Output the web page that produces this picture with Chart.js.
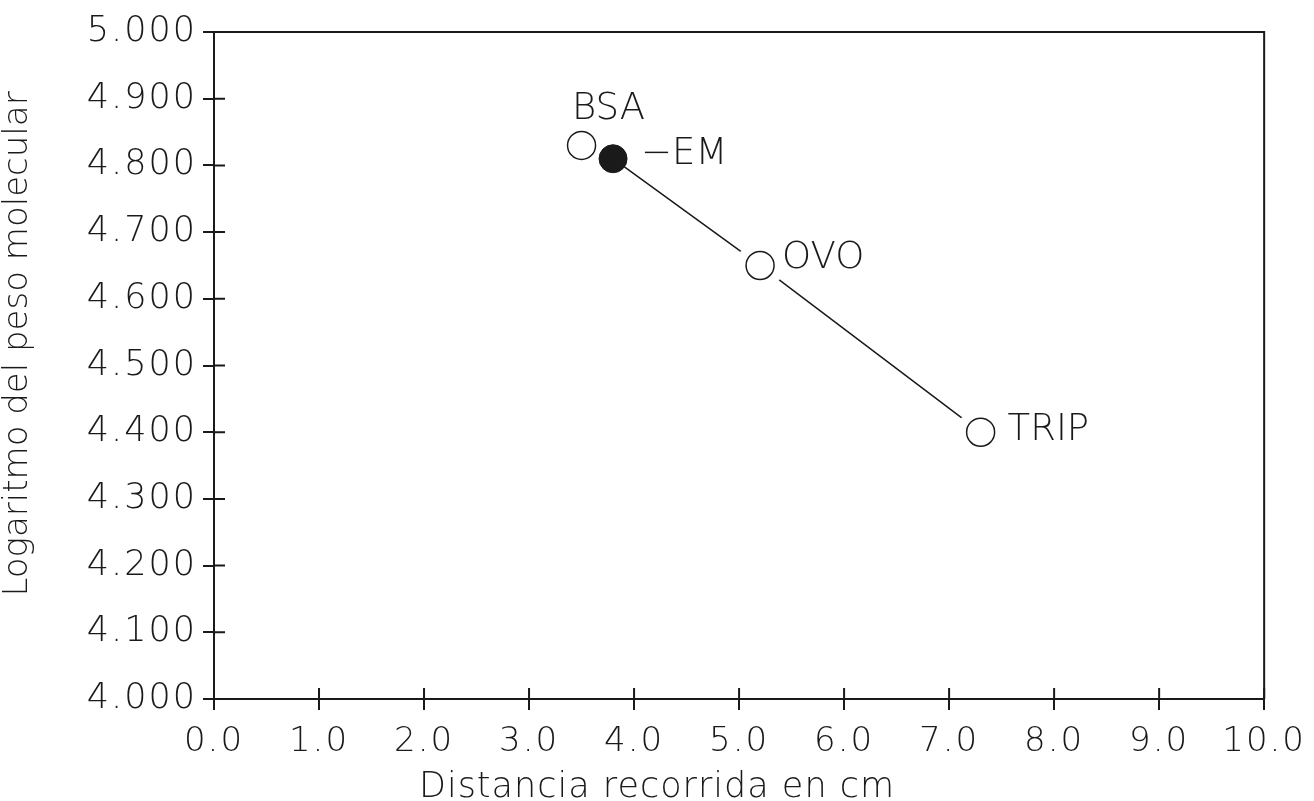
<!DOCTYPE html>
<html>
<head>
<meta charset="utf-8">
<script src="https://cdn.jsdelivr.net/npm/chart.js@4.4.1/dist/chart.umd.min.js"></script>
<style>
  html, body { margin: 0; padding: 0; background: #fff; }
  canvas { display: block; }
</style>
</head>
<body>
<canvas id="calibration-chart" width="1314" height="801"></canvas>
<script>
// Standard proteins (open circles)
const standardNames = ['BSA', 'OVO', 'TRIP'];
const standardDistance = [3.5, 5.2, 7.3];
const standardLogMW = [4.83, 4.65, 4.40];

// Sample (filled circle)
const sampleName = ['EM'];
const sampleDistance = [3.8];
const sampleLogMW = [4.81];

// Axis ticks
const xTicks = [0, 1, 2, 3, 4, 5, 6, 7, 8, 9, 10];
const yTicks = [4.0, 4.1, 4.2, 4.3, 4.4, 4.5, 4.6, 4.7, 4.8, 4.9, 5.0];

const INK = '#1a1a1a';
const FONT = '"DejaVu Sans", sans-serif';

const standardPoints = standardDistance.map((x, i) => ({ x, y: standardLogMW[i] }));
const samplePoints = sampleDistance.map((x, i) => ({ x, y: sampleLogMW[i] }));
// line runs from the sample through the lower standards
const fitPoints = samplePoints.concat(standardPoints.filter(p => p.x > sampleDistance[0]));

// labels next to each point: text, dx, dy, align
const pointLabels = [
  { text: standardNames[0], p: standardPoints[0], dx: 27, dy: -36, align: 'center' },
  { text: '\u2212' + sampleName[0], p: samplePoints[0], dx: 28, dy: -4, align: 'left' },
  { text: standardNames[1], p: standardPoints[1], dx: 22, dy: -7, align: 'left' },
  { text: standardNames[2], p: standardPoints[2], dx: 27, dy: -2, align: 'left' }
];

const frame = {
  id: 'frame',
  beforeDraw(chart) {
    // wider spacing for the plotter-style tick digits
    chart.ctx.letterSpacing = '2px';
  },
  afterDatasetsDraw(chart) {
    const { ctx, chartArea: a, scales } = chart;
    ctx.save();
    ctx.strokeStyle = INK;
    ctx.lineWidth = 2;
    // top and right border
    ctx.beginPath();
    ctx.moveTo(a.left, a.top);
    ctx.lineTo(a.right, a.top);
    ctx.lineTo(a.right, a.bottom);
    ctx.stroke();
    // inner half of the cross ticks
    ctx.beginPath();
    xTicks.forEach(v => {
      const px = scales.x.getPixelForValue(v);
      ctx.moveTo(px, a.bottom);
      ctx.lineTo(px, a.bottom - 11);
    });
    yTicks.forEach(v => {
      const py = scales.y.getPixelForValue(v);
      ctx.moveTo(a.left, py);
      ctx.lineTo(a.left + 11, py);
    });
    ctx.stroke();

    // point labels
    ctx.letterSpacing = '0px';
    ctx.fillStyle = INK;
    ctx.font = '200 37px ' + FONT;
    ctx.textBaseline = 'middle';
    pointLabels.forEach(l => {
      const px = scales.x.getPixelForValue(l.p.x);
      const py = scales.y.getPixelForValue(l.p.y);
      ctx.textAlign = l.align;
      ctx.fillText(l.text, px + l.dx, py + l.dy);
    });

    // axis titles
    ctx.letterSpacing = '1px';
    ctx.font = '200 35px ' + FONT;
    ctx.textAlign = 'center';
    ctx.textBaseline = 'alphabetic';
    ctx.fillText('Distancia recorrida en cm', 657, 797);
    ctx.letterSpacing = '0px';
    ctx.font = '200 34px ' + FONT;
    ctx.translate(27, 344);
    ctx.rotate(-Math.PI / 2);
    ctx.fillText('Logaritmo del peso molecular', 0, 0);
    ctx.restore();
  }
};

const tickFont = { family: FONT, size: 34, weight: 200 };

new Chart(document.getElementById('calibration-chart'), {
  type: 'scatter',
  data: {
    datasets: [
      {
        label: 'Patrones',
        data: standardPoints,
        pointStyle: 'circle',
        pointRadius: 14,
        pointBackgroundColor: '#fff',
        pointBorderColor: INK,
        pointBorderWidth: 1.5,
        showLine: false
      },
      {
        label: sampleName[0],
        data: samplePoints,
        pointStyle: 'circle',
        pointRadius: 14,
        pointBackgroundColor: INK,
        pointBorderColor: INK,
        pointBorderWidth: 1,
        showLine: false
      },
      {
        // white halo so the line stops short of the open circles
        label: 'halo',
        data: standardPoints,
        pointRadius: 24,
        pointBackgroundColor: '#fff',
        pointBorderWidth: 0,
        showLine: false
      },
      {
        label: 'ajuste',
        data: fitPoints,
        showLine: true,
        borderColor: INK,
        borderWidth: 1.5,
        pointRadius: 0
      }
    ]
  },
  options: {
    responsive: false,
    animation: false,
    events: [],
    layout: { padding: { top: 32, right: 48, left: 0, bottom: 0 } },
    plugins: { legend: { display: false }, tooltip: { enabled: false } },
    scales: {
      x: {
        type: 'linear',
        position: 'bottom',
        min: 0,
        max: 10,
        afterBuildTicks: s => { s.ticks = xTicks.map(v => ({ value: v })); },
        afterFit: s => { s.height = 102; },
        border: { display: true, color: INK, width: 2 },
        grid: { drawOnChartArea: false, drawTicks: true, tickLength: 11, color: INK, lineWidth: 2 },
        ticks: {
          callback: v => v.toFixed(1),
          font: tickFont,
          color: INK,
          padding: 12,
          maxRotation: 0,
          autoSkip: false
        }
      },
      y: {
        type: 'linear',
        position: 'left',
        min: 4,
        max: 5,
        afterBuildTicks: s => { s.ticks = yTicks.map(v => ({ value: v })); },
        afterFit: s => { s.width = 214; },
        border: { display: true, color: INK, width: 2 },
        grid: { drawOnChartArea: false, drawTicks: true, tickLength: 11, color: INK, lineWidth: 2 },
        ticks: {
          callback: v => v.toFixed(3),
          font: { family: FONT, size: 35, weight: 200 },
          color: INK,
          padding: 6,
          autoSkip: false
        }
      }
    }
  },
  plugins: [frame]
});
</script>
</body>
</html>
